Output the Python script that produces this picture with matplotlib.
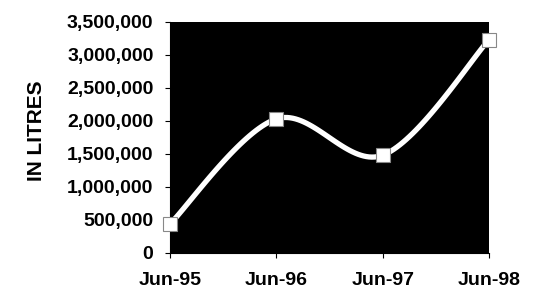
import numpy as np
import matplotlib.pyplot as plt
from matplotlib.ticker import FuncFormatter

months = ['Jun-95', 'Jun-96', 'Jun-97', 'Jun-98']
litres = [440000, 2030000, 1480000, 3230000]

plt.rcParams['font.family'] = ['Liberation Sans', 'DejaVu Sans']
plt.rcParams['font.weight'] = 'bold'


def smooth(x, y, n=40):
    # excel-style smoothed line: cubic bezier through each pair of points
    x = np.asarray(x, float)
    y = np.asarray(y, float)
    px, py = [], []
    for i in range(len(x) - 1):
        x0, y0 = (x[i - 1], y[i - 1]) if i > 0 else (x[i], y[i])
        x3, y3 = (x[i + 2], y[i + 2]) if i + 2 < len(x) else (x[i + 1], y[i + 1])
        c1 = (x[i] + (x[i + 1] - x0) / 6, y[i] + (y[i + 1] - y0) / 6)
        c2 = (x[i + 1] - (x3 - x[i]) / 6, y[i + 1] - (y3 - y[i]) / 6)
        t = np.linspace(0, 1, n)
        px.extend((1 - t) ** 3 * x[i] + 3 * (1 - t) ** 2 * t * c1[0] + 3 * (1 - t) * t ** 2 * c2[0] + t ** 3 * x[i + 1])
        py.extend((1 - t) ** 3 * y[i] + 3 * (1 - t) ** 2 * t * c1[1] + 3 * (1 - t) * t ** 2 * c2[1] + t ** 3 * y[i + 1])
    return px, py


fig = plt.figure(figsize=(5.35, 2.92), dpi=100)
ax = fig.add_axes([0.318, 0.134, 0.596, 0.791])
ax.set_facecolor('black')

xs = np.arange(len(months))
sx, sy = smooth(xs, litres)
ax.plot(sx, sy, color='white', lw=3.8, solid_capstyle='round', zorder=2)
ax.plot(xs, litres, ls='none', marker='s', ms=10, mfc='white', mec='#888888', mew=0.8,
        zorder=3, clip_on=False)

ax.set_xlim(0, 3)
ax.set_ylim(0, 3500000)
ax.set_yticks(np.arange(0, 3500001, 500000))
ax.yaxis.set_major_formatter(FuncFormatter(lambda v, p: f'{int(v):,}'))
ax.set_xticks(xs)
ax.set_xticklabels(months)
ax.tick_params(axis='both', direction='out', length=3.5, width=0.8, labelsize=14)
ax.tick_params(axis='y', pad=8.5)
ax.tick_params(axis='x', pad=10)
for s in ['top', 'right']:
    ax.spines[s].set_visible(False)
ax.set_ylabel('IN LITRES', fontsize=15, fontweight='bold')
ax.yaxis.set_label_coords(-0.39, 0.53)

fig.savefig('out.png', dpi=100)
